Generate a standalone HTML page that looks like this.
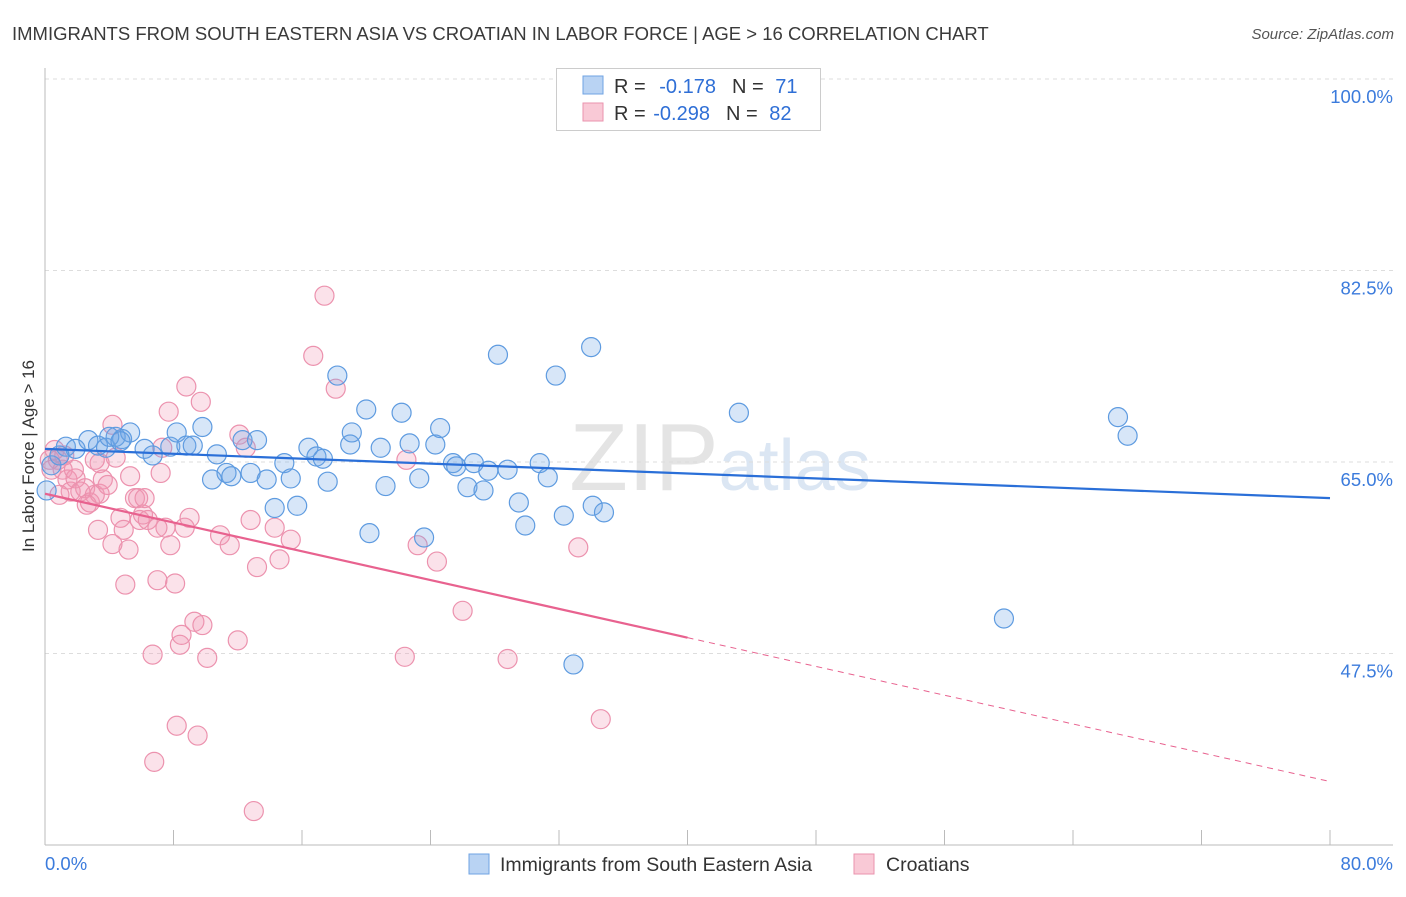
<!DOCTYPE html>
<html><head><meta charset="utf-8"><style>
body{margin:0;background:#fff;font-family:"Liberation Sans",sans-serif}
svg text{font-family:"Liberation Sans",sans-serif}
</style></head><body>
<svg width="1406" height="892" id="c">
<text x="12" y="40" font-size="18.5" fill="#3a3a3a">IMMIGRANTS FROM SOUTH EASTERN ASIA VS CROATIAN IN LABOR FORCE | AGE &gt; 16 CORRELATION CHART</text>
<text x="1394" y="39" font-size="15" fill="#555" text-anchor="end" font-style="italic">Source: ZipAtlas.com</text>
<text x="720" y="490" font-size="96" fill="#e4e4e4" text-anchor="middle" font-family="Liberation Serif">ZIP<tspan fill="#dbe6f3" font-family="Liberation Sans" font-size="72">atlas</tspan></text>
<text x="34" y="456" font-size="17" fill="#333" text-anchor="middle" transform="rotate(-90 34 456)">In Labor Force | Age &gt; 16</text>
<g id="grid"></g><g id="pts"></g><g id="lines"></g>
<g>
<rect x="556.5" y="68.5" width="264" height="62" fill="#fff" stroke="#ccc"/>
<rect x="583" y="76" width="20" height="18" fill="#b9d3f3" stroke="#6fa3e3"/>
<rect x="583" y="103" width="20" height="18" fill="#f9c9d6" stroke="#ea93ae"/>
<text x="614" y="93" font-size="20" fill="#333">R = <tspan fill="#2f6fd6" dx="8">-0.178</tspan><tspan dx="16" fill="#333">N = </tspan><tspan fill="#2f6fd6" dx="6">71</tspan></text>
<text x="614" y="120" font-size="20" fill="#333">R = <tspan fill="#2f6fd6" dx="2">-0.298</tspan><tspan dx="16" fill="#333">N = </tspan><tspan fill="#2f6fd6" dx="6">82</tspan></text>
</g>
<g>
<rect x="469" y="854" width="20" height="20" fill="#b9d3f3" stroke="#6fa3e3"/>
<text x="500" y="871" font-size="19.5" fill="#333">Immigrants from South Eastern Asia</text>
<rect x="854" y="854" width="20" height="20" fill="#f9c9d6" stroke="#ea93ae"/>
<text x="886" y="871" font-size="19.5" fill="#333">Croatians</text>
</g>
</svg>
<script>
const yTicks=[47.5,65,82.5,100];
const yTickLabels=["47.5%","65.0%","82.5%","100.0%"];
const xLabels=["0.0%","80.0%"];
const blueX=[1.3,1.9,2.7,3.3,3.8,4.4,4.8,5.3,6.2,6.7,7.8,8.2,8.8,9.2,9.8,10.7,10.4,11.3,11.6,12.3,13.2,12.8,13.8,14.9,15.3,14.3,15.7,16.4,16.9,17.3,17.6,18.2,19.0,19.1,20.0,20.2,20.9,21.2,22.2,22.7,23.3,23.6,24.3,24.6,25.4,25.6,26.3,26.7,27.3,27.6,28.2,28.8,29.5,29.9,30.8,31.3,31.8,32.3,34.0,34.1,34.8,32.9,43.2,59.7,66.8,67.4,0.1,0.4,0.9,4.0,4.7];
const blueY=[66.4,66.2,67.0,66.5,66.3,67.3,67.1,67.7,66.2,65.6,66.4,67.7,66.5,66.5,68.2,65.7,63.4,64.0,63.7,67.0,67.0,64.0,63.4,64.9,63.5,60.8,61.0,66.3,65.5,65.3,63.2,72.9,66.6,67.7,69.8,58.5,66.3,62.8,69.5,66.7,63.5,58.1,66.6,68.1,64.9,64.6,62.7,64.9,62.4,64.2,74.8,64.3,61.3,59.2,64.9,63.6,72.9,60.1,75.5,61.0,60.4,46.5,69.5,50.7,69.1,67.4,62.4,64.7,65.6,67.3,66.9];
const pinkX=[0.6,0.8,1.1,1.4,1.6,1.9,2.2,2.5,2.8,3.1,3.4,3.6,3.9,4.2,4.4,4.7,4.9,5.2,5.3,5.6,5.8,5.9,6.1,6.2,6.4,6.7,6.8,7.0,7.2,7.3,7.5,7.7,7.8,8.1,8.2,8.4,8.5,8.7,8.8,9.0,9.3,9.5,9.7,9.8,10.1,10.9,11.5,12.0,12.1,12.5,12.8,13.0,13.2,14.3,14.6,15.3,16.7,17.4,18.1,22.5,23.2,24.4,26.0,22.4,28.8,33.2,34.6,3.4,2.6,1.8,1.2,0.3,3.1,4.2,3.3,5.0,7.0,0.9,0.4];
const pinkY=[66.1,65.2,64.3,63.4,62.3,63.5,62.3,62.6,61.3,62.0,62.1,63.4,62.9,68.4,65.4,59.9,58.8,57.0,63.7,61.7,61.7,59.7,60.2,61.7,59.7,47.4,37.6,54.2,64.0,66.3,59.0,69.6,57.4,53.9,40.9,48.3,49.2,59.0,71.9,59.9,50.4,40.0,70.5,50.1,47.1,58.3,57.4,48.7,67.5,66.3,59.7,33.1,55.4,59.0,56.1,57.9,74.7,80.2,71.7,65.2,57.4,55.9,51.4,47.2,47.0,57.2,41.5,64.9,61.1,64.3,65.6,65.2,65.2,57.5,58.8,53.8,59.0,62.0,64.3];
const blueTrend=[66.2,61.7];
const pinkTrend=[62.1,35.8];
const pinkSolidEnd=40;
const X=v=>45+v/80*1285, Y=v=>79+(100-v)*10.943;
const NS="http://www.w3.org/2000/svg";
function mk(tag,attrs,parent){const e=document.createElementNS(NS,tag);for(const k in attrs)e.setAttribute(k,attrs[k]);parent.appendChild(e);return e;}
const grid=document.getElementById('grid');
yTicks.forEach((t,i)=>{
  const l=mk('line',{x1:45,x2:1393,y1:Y(t),y2:Y(t),stroke:'#ddd','stroke-dasharray':'4,4'},grid);
  
  
  const tx=mk('text',{x:1393,y:Y(t)+24,'font-size':18.5,fill:'#3b7bdc','text-anchor':'end'},grid);
  tx.textContent=yTickLabels[i];
  
  
});
const ax=mk('line',{x1:45,x2:45,y1:68,y2:845,stroke:'#bbb'},grid);


const bx=mk('line',{x1:45,x2:1393,y1:845,y2:845,stroke:'#bbb'},grid);


for(let i=0;i<=10;i++){const t=mk('line',{x1:X(i*8),x2:X(i*8),y1:830,y2:845,stroke:'#bbb'},grid);
  
  }
[[0,'start',45],[80,'end',1393]].forEach((a,i)=>{const t=mk('text',{x:a[2],y:870,'font-size':18.5,fill:'#3b7bdc','text-anchor':a[1]},grid);t.textContent=xLabels[i];
  
  });
const pts=document.getElementById('pts');
function dots(xs,ys,fill,stroke,name){xs.forEach((x,i)=>{const c=mk('circle',{cx:X(x),cy:Y(ys[i]),r:9.5,fill:fill,stroke:stroke,'stroke-width':1.2},pts);
  
  });}
dots(pinkX,pinkY,'rgba(242,150,178,0.28)','#ec92ae','croatian-point');
dots(blueX,blueY,'rgba(110,165,230,0.28)','#5e9be0','sea-point');
const ln=document.getElementById('lines');
const b=mk('line',{x1:X(0),y1:Y(blueTrend[0]),x2:X(80),y2:Y(blueTrend[1]),stroke:'#2a6fd8','stroke-width':2.2},ln);


const py=x=>pinkTrend[0]+(pinkTrend[1]-pinkTrend[0])*x/80;
const p1=mk('line',{x1:X(0),y1:Y(py(0)),x2:X(pinkSolidEnd),y2:Y(py(pinkSolidEnd)),stroke:'#e8628f','stroke-width':2.2},ln);


const p2=mk('line',{x1:X(pinkSolidEnd),y1:Y(py(pinkSolidEnd)),x2:X(80),y2:Y(py(80)),stroke:'#e8628f','stroke-width':1,'stroke-dasharray':'6,5'},ln);


</script>
</body></html>
